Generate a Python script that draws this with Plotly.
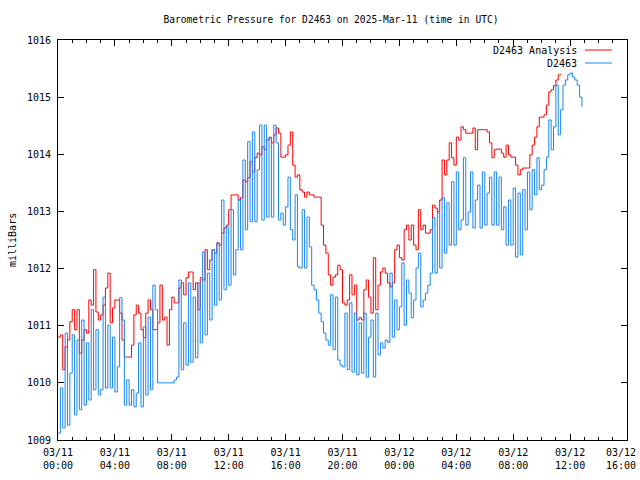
import pandas as pd
import plotly.graph_objects as go

# ---------------- data (10-minute samples starting 2025-03-11 00:00 UTC) ----------------
start_time = "2025-03-11 00:00"
sample_minutes = 10

d2463 = [
    1009.12, 1009.91, 1009.21, 1010.87, 1009.26, 1010.17, 1010.84, 1009.44, 1010.75, 1009.53,
    1011.10, 1009.61, 1010.70, 1009.70, 1011.28, 1009.88, 1010.93, 1009.79, 1009.88, 1011.50,
    1009.91, 1011.01, 1009.91, 1010.80, 1009.84, 1010.28, 1011.49, 1011.10, 1009.61, 1010.05,
    1009.61, 1009.88, 1009.58, 1009.82, 1010.70, 1009.58, 1010.98, 1009.79, 1011.15, 1009.88,
    1011.71, 1011.28, 1010.00, 1010.00, 1010.00, 1010.00, 1010.00, 1010.00, 1010.00, 1010.05,
    1010.10, 1011.80, 1010.23, 1011.05, 1010.31, 1011.75, 1010.36, 1011.50, 1010.44, 1011.75,
    1010.70, 1012.29, 1010.84, 1011.92, 1011.10, 1012.33, 1011.36, 1012.45, 1011.45, 1013.20,
    1011.63, 1012.73, 1011.71, 1013.03, 1011.89, 1012.33, 1013.20, 1012.33, 1013.90, 1012.68,
    1014.22, 1012.82, 1014.39, 1012.82, 1013.73, 1014.51, 1012.85, 1014.51, 1012.90, 1014.30,
    1012.90, 1014.51, 1014.20, 1012.85, 1012.97, 1012.76, 1013.08, 1013.60, 1012.68, 1012.50,
    1013.29, 1012.03, 1012.01, 1013.03, 1012.01, 1012.90, 1012.38, 1011.71, 1011.63, 1011.45,
    1011.22, 1011.07, 1010.87, 1010.75, 1010.66, 1011.54, 1010.58, 1011.50, 1010.40, 1010.31,
    1010.28, 1011.22, 1010.23, 1011.40, 1010.19, 1011.22, 1010.14, 1011.05, 1010.17, 1011.22,
    1010.10, 1010.80, 1011.10, 1010.10, 1011.22, 1010.49, 1010.70, 1010.61, 1010.75, 1010.71,
    1011.92, 1010.80, 1011.45, 1010.93, 1011.33, 1012.10, 1011.01, 1011.80, 1011.57, 1011.14,
    1011.45, 1012.01, 1012.27, 1011.33, 1011.45, 1011.57, 1011.71, 1011.92, 1012.89, 1011.92,
    1012.97, 1012.01, 1013.24, 1012.27, 1013.15, 1012.41, 1013.52, 1012.41, 1013.69, 1012.68,
    1012.85, 1013.94, 1012.76, 1012.99, 1013.69, 1012.71, 1013.20, 1013.46, 1012.71, 1013.69,
    1012.76, 1013.32, 1013.60, 1012.76, 1013.69, 1012.76, 1013.60, 1012.68, 1013.08, 1012.41,
    1013.20, 1012.41, 1013.41, 1012.20, 1013.32, 1012.24, 1013.38, 1012.68, 1013.69, 1013.03,
    1013.73, 1013.29, 1013.94, 1013.38, 1013.46, 1013.73, 1013.95, 1014.60, 1014.08, 1014.48,
    1015.21, 1014.34, 1014.78, 1015.21, 1015.30, 1015.39, 1015.42, 1015.35, 1015.30, 1015.21,
    1015.00, 1014.83,
]

d2463_analysis = [
    1010.80, 1010.84, 1010.23, 1010.63, 1010.75, 1011.07, 1011.28, 1010.93, 1011.28, 1010.52,
    1010.75, 1010.93, 1010.87, 1011.45, 1011.36, 1011.98, 1011.24, 1011.10, 1011.19, 1011.36,
    1011.66, 1011.92, 1011.05, 1011.31, 1011.45, 1011.45, 1011.22, 1010.75, 1010.45, 1010.45,
    1010.45, 1010.66, 1011.19, 1011.36, 1011.22, 1010.93, 1010.79, 1011.22, 1011.45, 1011.28,
    1010.93, 1010.93, 1011.05, 1011.71, 1011.10, 1011.15, 1010.66, 1011.28, 1011.50, 1011.40,
    1011.40, 1011.66, 1011.75, 1011.54, 1011.84, 1011.94, 1011.94, 1011.63, 1011.75, 1011.28,
    1011.84, 1011.80, 1012.33, 1011.98, 1012.15, 1012.33, 1012.27, 1012.45, 1012.41, 1012.62,
    1012.71, 1012.76, 1013.03, 1013.29, 1013.29, 1013.29, 1013.20, 1013.24, 1013.55, 1013.52,
    1013.59, 1013.87, 1013.69, 1013.94, 1014.02, 1013.99, 1014.13, 1014.08, 1014.25, 1014.29,
    1014.20, 1014.34, 1014.46, 1014.37, 1013.95, 1013.95, 1013.99, 1014.16, 1014.39, 1013.81,
    1013.60, 1013.64, 1013.38, 1013.34, 1013.25, 1013.34, 1013.29, 1013.29, 1013.25, 1013.25,
    1013.25, 1012.76, 1012.41, 1012.27, 1011.89, 1011.71, 1011.85, 1011.89, 1012.06, 1011.98,
    1011.40, 1011.36, 1011.45, 1011.89, 1011.54, 1011.71, 1011.10, 1011.14, 1011.10, 1011.63,
    1011.80, 1011.50, 1011.22, 1012.19, 1011.28, 1011.71, 1011.94, 1012.01, 1011.92, 1011.75,
    1011.68, 1011.75, 1012.33, 1012.41, 1012.19, 1012.15, 1012.68, 1012.76, 1012.50, 1012.76,
    1012.41, 1012.33, 1013.03, 1012.68, 1012.76, 1012.62, 1012.62, 1012.68, 1013.11, 1013.06,
    1012.99, 1013.20, 1013.90, 1013.64, 1013.90, 1014.20, 1013.94, 1013.81, 1014.30, 1014.25,
    1014.48, 1014.43, 1014.37, 1014.37, 1014.37, 1014.46, 1014.08, 1014.43, 1014.43, 1014.43,
    1014.43, 1014.39, 1014.20, 1013.94, 1014.08, 1014.09, 1014.09, 1014.02, 1013.95, 1014.16,
    1013.99, 1013.95, 1013.95, 1013.81, 1013.64, 1013.73, 1013.76, 1013.76, 1013.76, 1013.99,
    1014.16, 1014.30, 1014.48, 1014.65, 1014.65, 1014.69, 1014.86, 1015.09, 1015.13, 1015.20,
    1015.30, 1015.39, 1015.40,
]

tick_dates = ["03/11", "03/11", "03/11", "03/11", "03/11", "03/11",
              "03/12", "03/12", "03/12", "03/12", "03/12"]
tick_times = ["00:00", "04:00", "08:00", "12:00", "16:00", "20:00",
              "00:00", "04:00", "08:00", "12:00", "16:00"]
y_range = [1009, 1016]

# ---------------- build ----------------
t0 = pd.Timestamp(start_time)
step = pd.Timedelta(minutes=sample_minutes)
t_obs = [t0 + i * step for i in range(len(d2463))]
t_ana = [t0 + i * step for i in range(len(d2463_analysis))]
tick_vals = [t0 + pd.Timedelta(hours=4 * k) for k in range(len(tick_dates))]
tick_text = [f"{d}<br>{t}" for d, t in zip(tick_dates, tick_times)]
# the last (edge) label is drawn as an annotation so it stays inside the canvas
last_label = tick_text[-1]
tick_text[-1] = ""

RED = "#ff0000"
BLUE = "#1a86f6"
FONT = "DejaVu Sans Mono"

fig = go.Figure()
fig.add_trace(go.Scatter(x=t_ana, y=d2463_analysis, mode="lines", name="D2463 Analysis",
                         line=dict(color=RED, width=1, shape="hv")))
fig.add_trace(go.Scatter(x=t_obs, y=d2463, mode="lines", name="D2463",
                         line=dict(color=BLUE, width=1, shape="hv")))

fig.update_layout(
    width=640, height=480,
    margin=dict(l=58, r=13, t=40, b=40, autoexpand=False),
    paper_bgcolor="white", plot_bgcolor="white",
    font=dict(family=FONT, size=10, color="black"),
    showlegend=False,
    title=dict(text="Barometric Pressure for D2463 on 2025-Mar-11 (time in UTC)",
               x=331 / 640, xref="container", y=1 - 20 / 480, yref="container",
               xanchor="center", yanchor="middle",
               font=dict(family=FONT, size=9.6, color="black")),
)

fig.update_xaxes(
    range=[tick_vals[0], tick_vals[-1]],
    tickmode="array", tickvals=tick_vals, ticktext=tick_text,
    ticks="inside", ticklen=6, tickwidth=1, tickcolor="black",
    showline=True, linecolor="black", linewidth=1, mirror="allticks",
    showgrid=False, zeroline=False, ticklabelstandoff=3,
    minor=dict(tickmode="linear", tick0=tick_vals[0], dtick=3600000,
               ticks="inside", ticklen=3, tickcolor="black", showgrid=False),
    tickfont=dict(family=FONT, size=10),
)
fig.update_yaxes(
    range=y_range, dtick=1, tick0=1009,
    ticks="inside", ticklen=6, tickwidth=1, tickcolor="black",
    showline=True, linecolor="black", linewidth=1, mirror="allticks",
    showgrid=False, zeroline=False, ticklabelstandoff=4,
    tickfont=dict(family=FONT, size=10),
)

fig.add_annotation(text=last_label, xref="paper", yref="paper",
                   x=(638 - 58) / 569, y=-(445 - 440) / 400,
                   xanchor="right", yanchor="top", showarrow=False,
                   font=dict(family=FONT, size=10))

# y-axis label
fig.add_annotation(text="milliBars", xref="paper", yref="paper",
                   x=(12 - 58) / 569, y=0.5, textangle=-90, showarrow=False,
                   xanchor="center", yanchor="middle",
                   font=dict(family=FONT, size=10))

# legend (gnuplot style: text then sample line)
legend_rows = [("D2463 Analysis", RED, 50), ("D2463", BLUE, 63)]
for label, col, ypx in legend_rows:
    yp = 1 - (ypx - 40) / 400
    fig.add_annotation(text=label, xref="paper", yref="paper",
                       x=(579 - 58) / 569, y=yp, xanchor="right", yanchor="middle",
                       showarrow=False, font=dict(family=FONT, size=10))
    fig.add_shape(type="line", xref="paper", yref="paper",
                  x0=(585 - 58) / 569, x1=(612 - 58) / 569, y0=yp, y1=yp,
                  line=dict(color=col, width=1))

fig.write_html("out.html", config={"displayModeBar": False},
               post_script="document.body.style.margin='0px';")
